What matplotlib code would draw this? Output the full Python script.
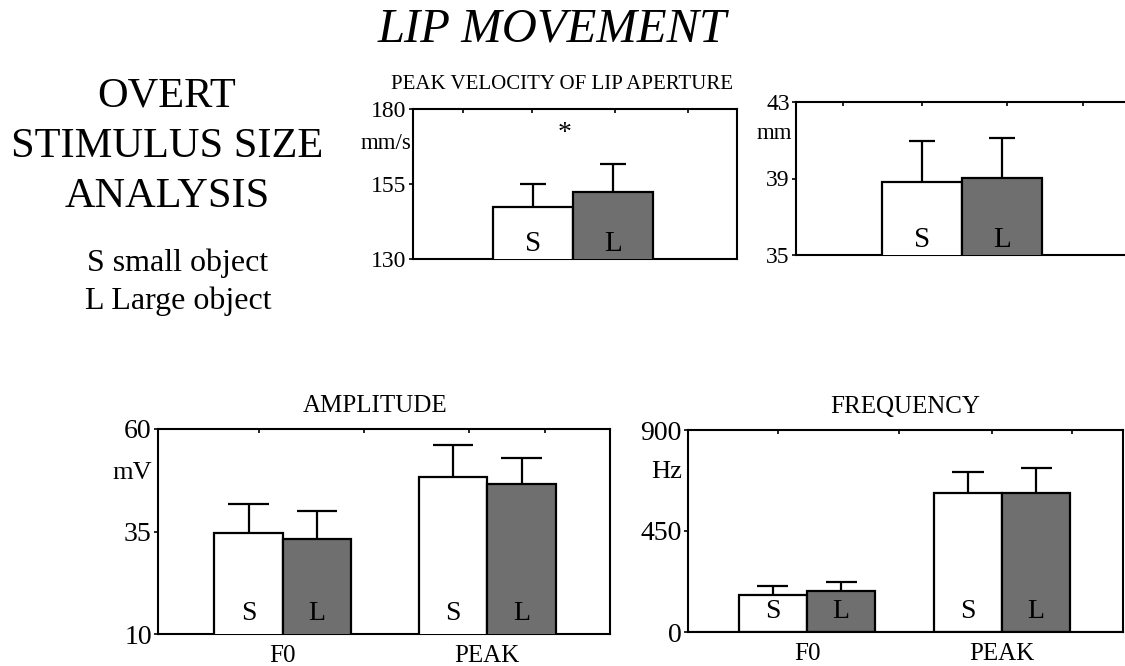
import matplotlib
matplotlib.use("Agg")
import matplotlib.pyplot as plt
import matplotlib.transforms as mtransforms

plt.rcParams['font.family'] = ['Liberation Serif', 'DejaVu Serif']

# ---------------- data ----------------
groups_top = ["A"]
groups_bottom = ["F0", "PEAK"]
series_labels = ["S", "L"]

pv_small = [147.2]; pv_small_err = [7.8]
pv_large = [152.3]; pv_large_err = [9.5]

amp_mm_small = [38.83]; amp_mm_small_err = [2.12]
amp_mm_large = [39.05]; amp_mm_large_err = [2.09]

amp_small = [34.7, 48.4]; amp_small_err = [7.0, 7.6]
amp_large = [33.1, 46.7]; amp_large_err = [6.8, 6.2]

freq_small = [167, 619]; freq_small_err = [37, 96]
freq_large = [182, 619]; freq_large_err = [40, 111]

W, H = 1125, 666
fig = plt.figure(figsize=(W / 100, H / 100), dpi=100)
GRAY = '#6f6f6f'


def axes_px(x0, x1, y0, y1):
    return fig.add_axes([x0 / W, 1 - y1 / H, (x1 - x0) / W, (y1 - y0) / H])


def panel(ax, groups, small, small_err, large, large_err, width, capw,
          ylim, yticks, unit, unit_pos, xlim, top_ticks, show_x,
          tick_fs, label_fs, unit_fs):
    xs = list(range(1, len(groups) + 1))
    xs_s = [x - width / 2 for x in xs]
    xs_l = [x + width / 2 for x in xs]
    ax.bar(xs_s, small, width=width, bottom=0, color='white',
           edgecolor='black', linewidth=1.6, zorder=3)
    ax.bar(xs_l, large, width=width, color=GRAY,
           edgecolor='black', linewidth=1.6, zorder=3)
    for xx, v, e in ((xs_s, small, small_err), (xs_l, large, large_err)):
        for x, val, err in zip(xx, v, e):
            ax.vlines(x, val, val + err, color='black', lw=1.6, zorder=2)
            ax.hlines(val + err, x - capw, x + capw, color='black', lw=1.6, zorder=2)
    trans = mtransforms.blended_transform_factory(ax.transData, ax.transAxes)
    for x in xs_s:
        ax.text(x, 0.1, series_labels[0], transform=trans, ha='center',
                va='center', fontsize=label_fs, zorder=5)
    for x in xs_l:
        ax.text(x, 0.1, series_labels[1], transform=trans, ha='center',
                va='center', fontsize=label_fs, zorder=5)
    ax.set_ylim(*ylim)
    ax.set_xlim(*xlim)
    ax.set_yticks(yticks)
    ax.set_yticklabels([str(t) for t in yticks])
    ax.tick_params(axis='y', direction='out', length=3, width=1.2,
                   labelsize=tick_fs, pad=1.5)
    if show_x:
        ax.set_xticks(xs)
        ax.set_xticklabels(groups)
        ax.tick_params(axis='x', length=0, labelsize=18, pad=8)
    else:
        ax.set_xticks([])
    sec = ax.secondary_xaxis('top')
    sec.set_xticks(top_ticks)
    sec.set_xticklabels([])
    sec.tick_params(direction='in', length=3, width=1.2)
    sec.spines['top'].set_visible(False)
    for s in ax.spines.values():
        s.set_linewidth(1.5)
    ax.text(unit_pos[0], unit_pos[1], unit, transform=ax.transAxes,
            ha='right', va='center', fontsize=unit_fs)


# top-left: peak velocity
ax1 = axes_px(413, 737, 109, 259)
panel(ax1, groups_top, pv_small, pv_small_err, pv_large, pv_large_err,
      0.25, 0.04, (130, 180), [130, 155, 180], 'mm/s', (-0.004, 0.773),
      (0.5, 1.5125), [0.656, 0.872, 1.131, 1.359], False, 17, 21, 16.5)
ax1.text(0.975, 171.8, '*', ha='center', va='center', fontsize=20)
ax1.text(0.46, 1.165, 'PEAK VELOCITY OF LIP APERTURE', transform=ax1.transAxes,
         ha='center', va='center', fontsize=15)

# top-right: amplitude (mm)
ax2 = axes_px(796, 1128, 102, 255)
panel(ax2, groups_top, amp_mm_small, amp_mm_small_err, amp_mm_large,
      amp_mm_large_err, 0.25, 0.04, (35, 43), [35, 39, 43], 'mm',
      (-0.012, 0.797), (0.48, 1.52), [0.628, 0.875, 1.14, 1.378], False,
      17, 21, 16.5)

# bottom-left: amplitude
ax3 = axes_px(158, 610, 429, 634)
panel(ax3, groups_bottom, amp_small, amp_small_err, amp_large, amp_large_err,
      0.335, 0.1, (10, 60), [10, 35, 60], 'mV', (-0.013, 0.785),
      (0.39, 2.6), [0.883, 1.395, 1.912, 2.28], True, 20, 20, 19)
ax3.set_title('AMPLITUDE', fontsize=18, pad=12, x=0.48)

# bottom-right: frequency
ax4 = axes_px(688, 1123, 430, 632)
panel(ax4, groups_bottom, freq_small, freq_small_err, freq_large,
      freq_large_err, 0.35, 0.08, (0, 900), [0, 450, 900], 'Hz',
      (-0.014, 0.79), (0.39, 2.62), [0.85, 1.474, 1.95, 2.36], True,
      20, 20, 19)
ax4.set_title('FREQUENCY', fontsize=18, pad=12)
ax4.hlines(0, 0.39, 2.62, color='black', lw=1.5, zorder=4)

# texts
fig.text(552 / W, 1 - 30 / H, 'LIP MOVEMENT', ha='center', va='center',
         fontsize=35, style='italic')
fig.text(167 / W, 1 - 96 / H, 'OVERT', ha='center', va='center', fontsize=30.5)
fig.text(167 / W, 1 - 147 / H, 'STIMULUS SIZE', ha='center', va='center', fontsize=30.5)
fig.text(167 / W, 1 - 197 / H, 'ANALYSIS', ha='center', va='center', fontsize=30.5)
fig.text(178 / W, 1 - 263 / H, 'S small object', ha='center', va='center', fontsize=23)
fig.text(178 / W, 1 - 301 / H, 'L Large object', ha='center', va='center', fontsize=23)

fig.savefig('out.png', dpi=100)
